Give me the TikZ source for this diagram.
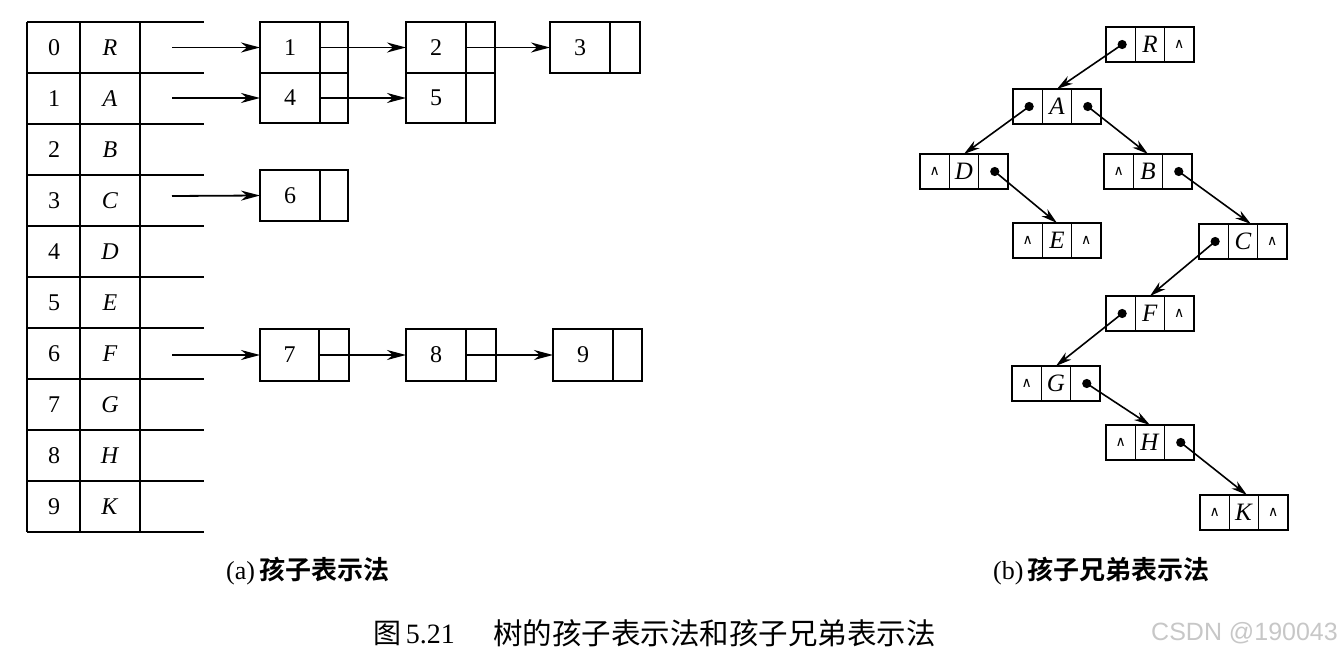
\documentclass[tikz,border=0pt]{standalone}
\usepackage{fontspec}
\setmainfont{Liberation Serif}
\newfontfamily\cjk{Noto Sans CJK SC}
\newfontfamily\cjkb{Noto Sans CJK SC Bold}
\newfontfamily\wmfont{Liberation Sans}
\newfontfamily\symf{DejaVu Sans}
\usetikzlibrary{arrows.meta}
\tikzset{
  tline/.style={line width=1.7pt},
  cell/.style={draw, line width=1.7pt, inner sep=0pt, outer sep=0pt, minimum height=51pt, anchor=north west, font=\fontsize{24}{24}\selectfont},
  arr/.style={line width=1.8pt, -{Stealth[length=19pt,width=10pt,inset=6pt]}},
  tc/.style={draw, line width=1.4pt, inner sep=0pt, outer sep=0pt, minimum width=29.3pt, minimum height=35pt, anchor=north west, font=\fontsize{25}{25}\selectfont},
  tarr/.style={line width=1.6pt, -{Stealth[length=16pt,width=9pt,inset=5pt]}},
  txt/.style={inner sep=0pt, font=\fontsize{24}{24}\selectfont},
}
\newcommand{\tnd}[6]{%
  \node[tc] (#1l) at (#2,#3) {#4};
  \node[tc] (#1) at (#1l.north east) {#5};
  \node[tc] (#1r) at (#1.north east) {#6};
}
\newcommand{\nl}{{\symf\fontsize{14}{14}\selectfont ∧}}
\begin{document}
\begin{tikzpicture}[x=1pt,y=-1pt]
\useasboundingbox (0,0) rectangle (1341,655);
% ---- table (a)
\foreach \yy in {22,73,124,175,226,277,328,379,430,481,532}
  \draw[tline] (27,\yy) -- (204,\yy);
\draw[tline] (27,22) -- (27,532);
\draw[tline] (80,22) -- (80,532);
\draw[tline] (140,22) -- (140,532);
\foreach \i/\L in {0/R,1/A,2/B,3/C,4/D,5/E,6/F,7/G,8/H,9/K}{
  \node[txt] (i\i) at (54,{47.5+51*\i}) {\i};
  \node[txt] (l\i) at (110,{47.5+51*\i}) {\textit{\L}};
}
% ---- lists
\node[cell, minimum width=60pt] (b1) at (260,22) {1};
\node[cell, minimum width=28pt] (b1p) at (b1.north east) {};
\node[cell, minimum width=60pt, minimum height=50pt] (b4) at (b1.south west) {4};
\node[cell, minimum width=28pt, minimum height=50pt] (b4p) at (b4.north east) {};
\node[cell, minimum width=60pt] (b2) at (406,22) {2};
\node[cell, minimum width=29pt] (b2p) at (b2.north east) {};
\node[cell, minimum width=60pt, minimum height=50pt] (b5) at (b2.south west) {5};
\node[cell, minimum width=29pt, minimum height=50pt] (b5p) at (b5.north east) {};
\node[cell, minimum width=60pt] (b3) at (550,22) {3};
\node[cell, minimum width=30pt] (b3p) at (b3.north east) {};
\node[cell, minimum width=60pt] (b6) at (260,170) {6};
\node[cell, minimum width=28pt] (b6p) at (b6.north east) {};
\node[cell, minimum width=59pt, minimum height=52pt] (b7) at (260,329) {7};
\node[cell, minimum width=30pt, minimum height=52pt] (b7p) at (b7.north east) {};
\node[cell, minimum width=60pt, minimum height=52pt] (b8) at (406,329) {8};
\node[cell, minimum width=30pt, minimum height=52pt] (b8p) at (b8.north east) {};
\node[cell, minimum width=60pt, minimum height=52pt] (b9) at (553,329) {9};
\node[cell, minimum width=29pt, minimum height=52pt] (b9p) at (b9.north east) {};
\coordinate (s0) at (172,47.5);
\coordinate (s1) at (172,98);
\coordinate (s3) at (172,196);
\coordinate (s6) at (172,355);
\draw[arr] (s0) -- (b1.west);
\draw[arr] (s1) -- (b4.west);
\draw[arr] (s3) -- (b6.west);
\draw[arr] (s6) -- (b7.west);
\draw[arr] (b1p.west) -- (b2.west);
\draw[arr] (b2p.west) -- (b3.west);
\draw[arr] (b4p.west) -- (b5.west);
\draw[arr] (b7p.west) -- (b8.west);
\draw[arr] (b8p.west) -- (b9.west);
% ---- tree (b)
\tnd{R}{1106}{27}{}{\textit{R}}{\nl}
\tnd{A}{1013}{89}{}{\textit{A}}{}
\tnd{D}{920}{154}{\nl}{\textit{D}}{}
\tnd{B}{1104}{154}{\nl}{\textit{B}}{}
\tnd{E}{1013}{223}{\nl}{\textit{E}}{\nl}
\tnd{C}{1199}{224}{}{\textit{C}}{\nl}
\tnd{F}{1106}{296}{}{\textit{F}}{\nl}
\tnd{G}{1012}{366}{\nl}{\textit{G}}{}
\tnd{H}{1106}{425}{\nl}{\textit{H}}{}
\tnd{K}{1200}{495}{\nl}{\textit{K}}{\nl}
\foreach \n in {Rl,Al,Ar,Dr,Br,Cl,Fl,Gr,Hr}
  \fill ([xshift=1.5pt]\n.center) circle (4.6pt);
\draw[tarr] ([xshift=1.5pt]Rl.center) -- (A.north);
\draw[tarr] ([xshift=1.5pt]Al.center) -- (D.north);
\draw[tarr] ([xshift=1.5pt]Ar.center) -- (B.north);
\draw[tarr] ([xshift=1.5pt]Dr.center) -- (E.north);
\draw[tarr] ([xshift=1.5pt]Br.center) -- ([xshift=8pt]C.north);
\draw[tarr] ([xshift=1.5pt]Cl.center) -- (F.north);
\draw[tarr] ([xshift=1.5pt]Fl.center) -- (G.north);
\draw[tarr] ([xshift=1.5pt]Gr.center) -- (H.north);
\draw[tarr] ([xshift=1.5pt]Hr.center) -- ([xshift=3pt]K.north);
% ---- captions
\node[inner sep=0pt, anchor=west, font=\fontsize{26}{26}\selectfont] (capa) at (226,571) {(a)\,{\cjkb 孩子表示法}};
\node[inner sep=0pt, anchor=west, font=\fontsize{26}{26}\selectfont] (capb) at (993,571) {(b)\,{\cjkb 孩子兄弟表示法}};
\node[inner sep=0pt, anchor=west, font=\fontsize{28}{28}\selectfont] (fig) at (373,633) {{\cjk 图}\,5.21};
\node[inner sep=0pt, anchor=west, font=\fontsize{29.5}{29.5}\selectfont\cjk] (title) at (493,633) {树的孩子表示法和孩子兄弟表示法};
\node[inner sep=0pt, anchor=east, text=black!22, font=\fontsize{25}{25}\selectfont\wmfont] (wm) at (1338,633) {CSDN @190043};
\end{tikzpicture}
\end{document}
